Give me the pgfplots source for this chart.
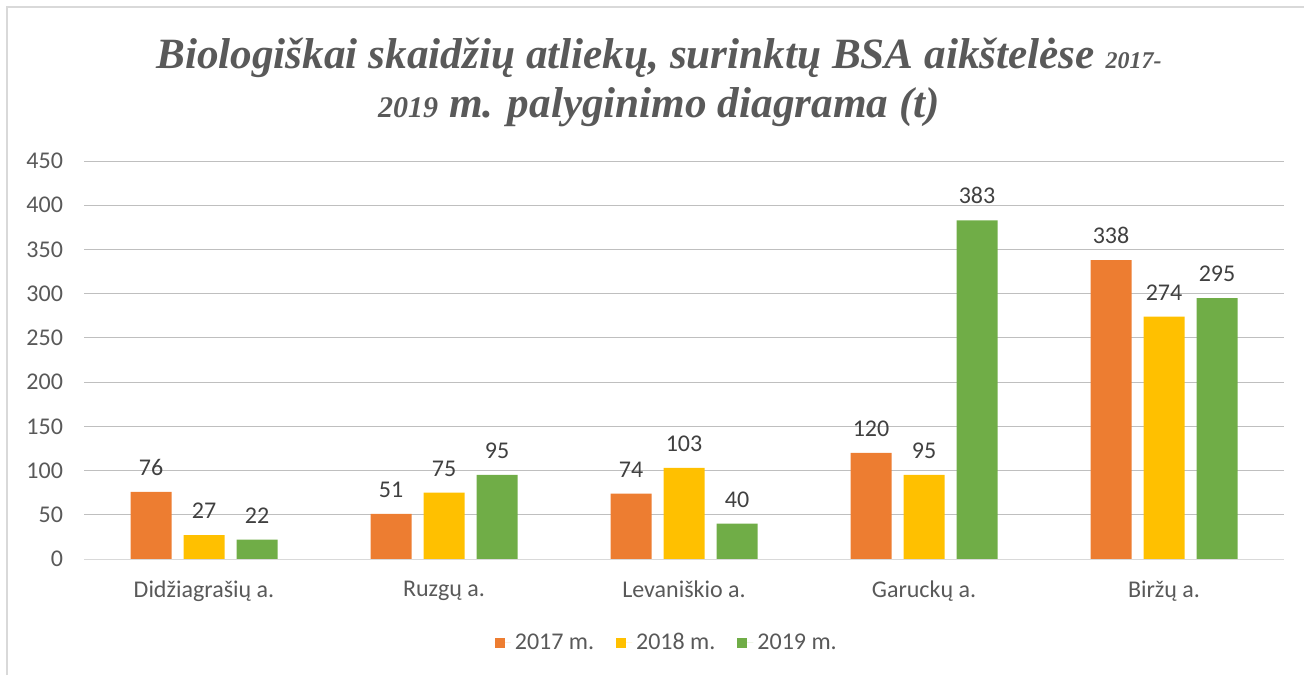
\documentclass[border=0pt]{standalone}
\usepackage{pgfplots}
\pgfplotsset{compat=1.18}
\usepackage{fontspec}
\setmainfont{Carlito}
\newfontfamily\titlefont{Liberation Serif}
\definecolor{cOr}{HTML}{ED7D31}
\definecolor{cYe}{HTML}{FFC000}
\definecolor{cGr}{HTML}{70AD47}
\definecolor{txt}{HTML}{595959}
\definecolor{lbl}{HTML}{404040}
\definecolor{grid}{HTML}{D9D9D9}
\begin{document}
\begin{tikzpicture}
\path[use as bounding box] (0,0) rectangle (652pt,337.5pt);
\draw[grid, line width=0.6pt] (3.5pt,0) -- (3.5pt,334pt) -- (652pt,334pt);
\node[anchor=base, text=txt, inner sep=0] at (329.5pt,303pt) {\titlefont\bfseries\itshape\fontsize{21.6}{26}\selectfont Biologiškai skaidžių atliekų, surinktų BSA aikštelėse {\fontsize{12}{14}\selectfont 2017-}};
\node[anchor=base, text=txt, inner sep=0] at (329.5pt,278.5pt) {\titlefont\bfseries\itshape\fontsize{21.6}{26}\selectfont {\fontsize{15}{18}\selectfont 2019} m. palyginimo diagrama (t)};
\begin{axis}[
  at={(42pt,58pt)}, anchor=south west,
  scale only axis, width=600pt, height=199pt,
  ymin=0, ymax=450, ytick={0,50,...,450},
  xmin=-0.5, xmax=4.5, xtick={0,1,2,3,4},
  xticklabels={Didžiagrašių a., Ruzgų a., Levaniškio a., Garuckų a., Biržų a.},
  ymajorgrids, xmajorgrids=false, grid style={grid, line width=0.5pt},
  axis line style={draw=none},
  tick style={draw=none},
  major tick length=0pt,
  tick label style={font=\fontsize{12}{14}\selectfont, text=txt},
  /pgf/number format/assume math mode=true,
  yticklabel style={xshift=-7pt},
  xticklabel style={yshift=-7.5pt},
  ybar=6pt, bar width=20.5pt,
  nodes near coords,
  every node near coord/.append style={font=\fontsize{12}{14}\selectfont, text=lbl, anchor=south, inner sep=0pt, yshift=8pt},
  legend style={draw=none, at={(0.4865,-0.211)}, anchor=center, legend columns=-1,
    font=\fontsize{12}{14}\selectfont, text=txt,
    /tikz/every even column/.append style={column sep=9pt}},
  legend image code/.code={\fill (0pt,-2.5pt) rectangle (5pt,2.5pt); \path (0pt,0pt) -- (8pt,0pt);},
]
\addplot[fill=cOr, draw=none] coordinates {(0,76) (1,51) (2,74) (3,120) (4,338)};
\addplot[fill=cYe, draw=none] coordinates {(0,27) (1,75) (2,103) (3,95) (4,274)};
\addplot[fill=cGr, draw=none] coordinates {(0,22) (1,95) (2,40) (3,383) (4,295)};
\draw[grid, line width=0.5pt] (axis cs:-0.5,0) -- (axis cs:4.5,0);
\legend{2017 m., 2018 m., 2019 m.}
\end{axis}
\end{tikzpicture}
\end{document}
